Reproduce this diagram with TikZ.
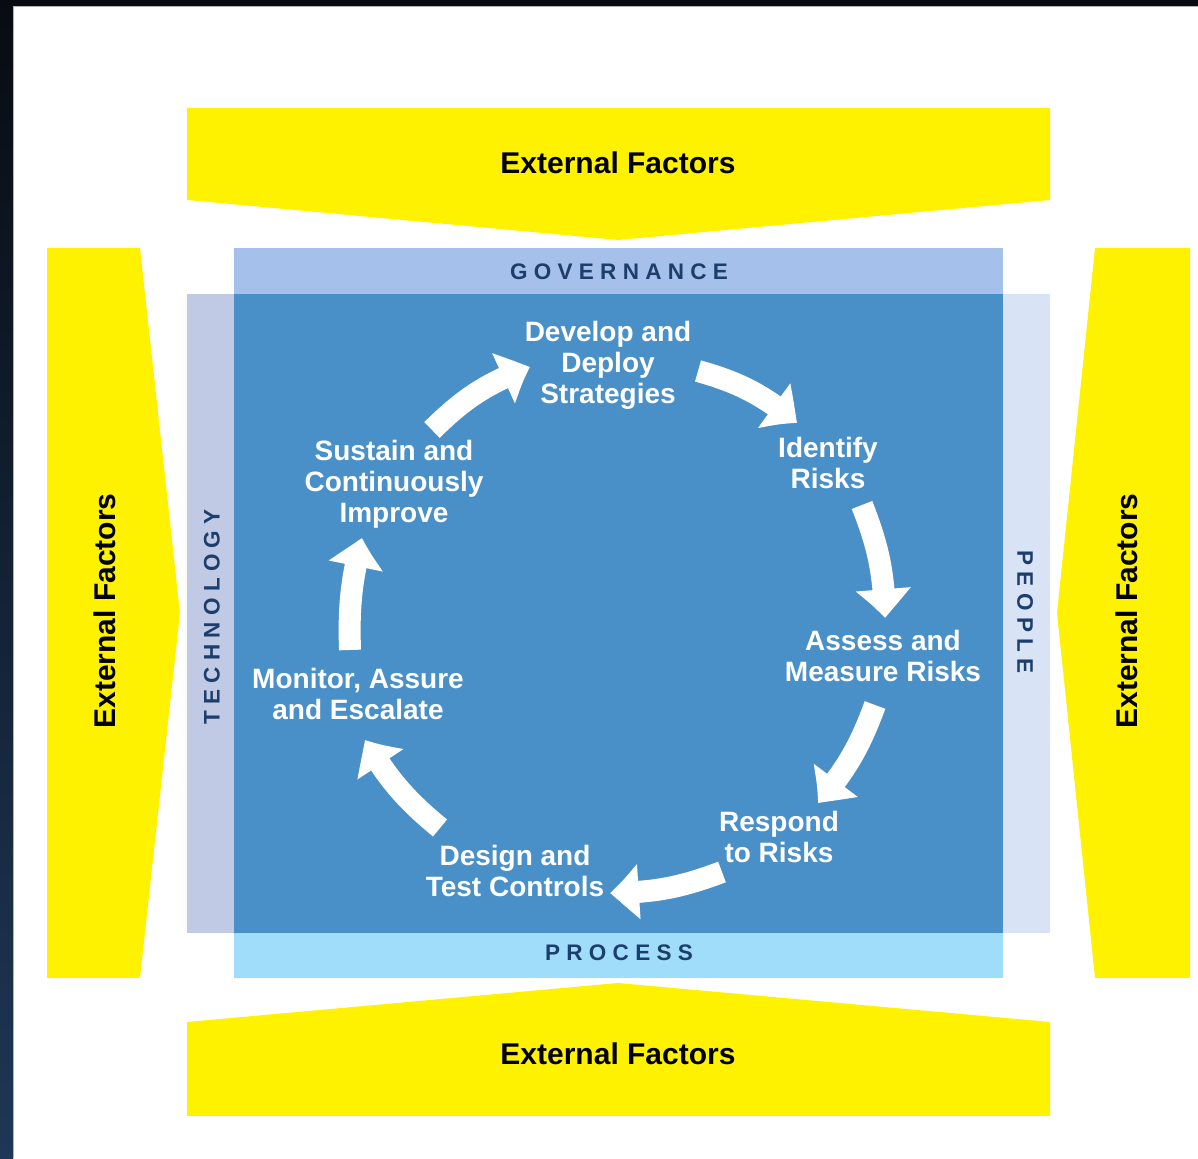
\documentclass[tikz,border=0pt]{standalone}
\usepackage{fontspec}
\setmainfont{Liberation Sans}
\usetikzlibrary{arrows.meta,bending}

\definecolor{factor}{HTML}{FFF200}
\definecolor{govband}{HTML}{A5C0EA}
\definecolor{coreblue}{HTML}{4A90C8}
\definecolor{techband}{HTML}{C0CAE5}
\definecolor{peopleband}{HTML}{D9E3F6}
\definecolor{procband}{HTML}{A0DDFA}
\definecolor{bandtext}{HTML}{1C3E6C}
\definecolor{frametop}{HTML}{080C12}
\definecolor{framebot}{HTML}{1E3756}

\tikzset{
  factorshape/.style={fill=factor, draw=none},
  bandfill/.style={draw=none},
  factortext/.style={text=black, font=\bfseries\fontsize{30}{32}\selectfont, inner sep=0pt},
  bandlabel/.style={text=bandtext, inner sep=0pt,
    font=\bfseries\fontsize{22.5}{25}\selectfont\addfontfeature{LetterSpace=28}},
  stage/.style={text=white, align=center, inner sep=0pt,
    font=\bfseries\fontsize{28}{31}\selectfont},
  cyclearrow/.style={draw=white, line width=22pt,
    -{Triangle[width=52pt,length=30pt,bend]}},
}

\begin{document}
\begin{tikzpicture}[x=1pt,y=1pt]
  \useasboundingbox (0,0) rectangle (1198,1158);
  \fill[white] (0,0) rectangle (1198,1158);

  % dark frame along the left and top edges
  \shade[top color=frametop, bottom color=framebot] (0,0) rectangle (13,1158);
  \fill[frametop] (0,1152) rectangle (1198,1158);
  \draw[gray!60, line width=1.2pt] (13.6,0) -- (13.6,1151.4) -- (1198,1151.4);

  % external factors: four yellow shapes pointing inwards
  \fill[factorshape] (187,1050) -- (1050,1050) -- (1050,958) -- (618,918) -- (187,958) -- cycle;
  \fill[factorshape] (187,42) -- (1050,42) -- (1050,136) -- (618,175) -- (187,136) -- cycle;
  \fill[factorshape] (47,910) -- (140,910) -- (180,545) -- (140,180) -- (47,180) -- cycle;
  \fill[factorshape] (1190,910) -- (1095,910) -- (1057,545) -- (1095,180) -- (1190,180) -- cycle;

  % framework bands
  \fill[govband] (234,864) rectangle (1003,910);
  \fill[techband] (187,225) rectangle (234,864);
  \fill[peopleband] (1003,225) rectangle (1050,864);
  \fill[procband] (234,180) rectangle (1003,225);
  \fill[coreblue] (234,225) rectangle (1003,864);

  % labels of the external factors
  \node[factortext] (eftop) at (618,995) {External Factors};
  \node[factortext] (efbottom) at (618,104) {External Factors};
  \node[factortext, rotate=90] (efleft) at (105,547) {External Factors};
  \node[factortext, rotate=90] (efright) at (1127,547) {External Factors};

  % labels of the bands
  \node[bandlabel] (governance) at (619,886) {GOVERNANCE};
  \node[bandlabel] (process) at (619,205) {PROCESS};
  \node[bandlabel, rotate=90] (technology) at (212,541) {TECHNOLOGY};
  \node[bandlabel, rotate=-90] (people) at (1025,546) {PEOPLE};

  % stages of the cycle
  \node[stage] (develop) at (608,793) {Develop and\\Deploy\\Strategies};
  \node[stage] (identify) at (828,695) {Identify\\Risks};
  \node[stage] (assess) at (883,502) {Assess and\\Measure Risks};
  \node[stage] (respond) at (779,321) {Respond\\to Risks};
  \node[stage] (design) at (515,287) {Design and\\Test Controls};
  \node[stage] (monitor) at (358,464) {Monitor, Assure\\and Escalate};
  \node[stage] (sustain) at (394,674) {Sustain and\\Continuously\\Improve};

  % ends of the arrows between the stages
  \coordinate (sustain-out) at (432,728);
  \coordinate (develop-in) at (530,791);
  \coordinate (develop-out) at (698,787);
  \coordinate (identify-in) at (797,735);
  \coordinate (identify-out) at (862,653);
  \coordinate (assess-in) at (885,540);
  \coordinate (assess-out) at (875,453);
  \coordinate (respond-in) at (818,355);
  \coordinate (respond-out) at (722,286);
  \coordinate (design-in) at (610,265);
  \coordinate (design-out) at (440,330);
  \coordinate (monitor-in) at (365,418);
  \coordinate (monitor-out) at (350,508);
  \coordinate (sustain-in) at (362,620);

  \draw[cyclearrow] (sustain-out) to[bend left=12] (develop-in);
  \draw[cyclearrow] (develop-out) to[bend left=12] (identify-in);
  \draw[cyclearrow] (identify-out) to[bend left=10] (assess-in);
  \draw[cyclearrow] (assess-out) to[bend left=10] (respond-in);
  \draw[cyclearrow] (respond-out) to[bend left=10] (design-in);
  \draw[cyclearrow] (design-out) to[bend left=10] (monitor-in);
  \draw[cyclearrow] (monitor-out) to[bend left=8] (sustain-in);
\end{tikzpicture}
\end{document}
